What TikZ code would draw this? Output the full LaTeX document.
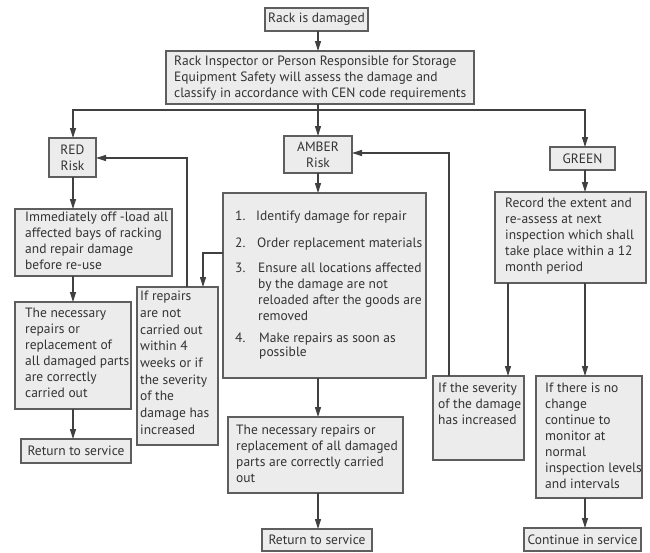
\documentclass[tikz,border=0pt]{standalone}
\usepackage{fontspec}
\setmainfont{PT Sans}
\usetikzlibrary{arrows.meta,calc}
\definecolor{boxfill}{HTML}{ECECEC}
\definecolor{boxline}{HTML}{5E5E5E}
\definecolor{lineclr}{HTML}{404040}
\definecolor{txtclr}{HTML}{333333}
\newcommand\mybox[5]{\node[box, minimum width={(#4)-(#2)}, minimum height={(#5)-(#3)}] (#1) at ({((#2)+(#4))/2},{((#3)+(#5))/2}) {};}
\begin{document}
\begin{tikzpicture}[x=1pt,y=-1pt,
  box/.style={draw=boxline, fill=boxfill, line width=1.1pt, inner sep=0pt, outer sep=0pt},
  lbl/.style={inner sep=0pt, anchor=north west, align=left, font=\fontsize{13.5}{16}\selectfont, text=txtclr},
  ctr/.style={inner sep=0pt, align=center, font=\fontsize{13.5}{16}\selectfont, text=txtclr},
  arr/.style={draw=lineclr, line width=1.1pt, -{Triangle[length=10pt,width=6pt]}},
  ln/.style={draw=lineclr, line width=1.1pt}]
\useasboundingbox (0,0) rectangle (650,552);
% boxes
\mybox{rack}{265}{8}{368}{31}
\mybox{insp}{166}{51}{474}{104}
\mybox{red}{49}{138}{96}{177}
\mybox{amber}{284}{136}{352}{173}
\mybox{green}{550}{147}{615}{170}
\mybox{imm}{15}{209}{172}{276}
\mybox{nec1}{15}{302}{131}{409}
\mybox{ret1}{21}{439}{131}{463}
\mybox{ifrep}{137}{287}{218}{445}
\mybox{list}{223}{193}{426}{378}
\mybox{nec2}{228}{417}{403}{493}
\mybox{ret2}{262}{529}{372}{551}
\mybox{rec}{495}{192}{646}{283}
\mybox{sev}{433}{376}{524}{460}
\mybox{nochg}{536}{376}{642}{498}
\mybox{cont}{524}{528}{641}{551}
% centred labels
\node[ctr] at (rack) {Rack is damaged};
\node[ctr] at (red) {RED\\Risk};
\node[ctr] at (amber) {AMBER\\Risk};
\node[ctr] at (green) {GREEN};
\node[ctr] at (ret1) {Return to service};
\node[ctr] at (ret2) {Return to service};
\node[ctr] at (cont) {Continue in service};
% left-aligned labels
\node[lbl] (tinsp) at (174,56) {Rack Inspector or Person Responsible for Storage\\Equipment Safety will assess the damage and\\classify in accordance with CEN code requirements};
\node[lbl] (timm) at (25,212) {Immediately off -load all\\affected bays of racking\\and repair damage\\before re-use};
\node[lbl] (tnec1) at (25,308) {The necessary\\repairs or\\replacement of\\all damaged parts\\are correctly\\carried out};
\node[lbl, font=\fontsize{13.5}{16.7}\selectfont] (tifrep) at (140,291) {If repairs\\are not\\carried out\\within 4\\weeks or if\\the severity\\of the\\damage has\\increased};
\node[lbl] (n1) at (235,211) {1.};
\node[lbl] (i1) at (256,211) {Identify damage for repair};
\node[lbl] (n2) at (235,238) {2.};
\node[lbl] (i2) at (257,238) {Order replacement materials};
\node[lbl] (n3) at (235,263) {3.};
\node[lbl] (i3) at (258,263) {Ensure all locations affected\\by the damage are not\\reloaded after the goods are\\removed};
\node[lbl] (n4) at (235,333) {4.};
\node[lbl, font=\fontsize{13.5}{12}\selectfont] (i4) at (259,333) {Make repairs as soon as\\possible};
\node[lbl] (tnec2) at (236,425) {The necessary repairs or\\replacement of all damaged\\parts are correctly carried\\out};
\node[lbl] (trec) at (505,198) {Record the extent and\\re-assess at next\\inspection which shall\\take place within a 12\\month period};
\node[lbl] (tsev) at (438,383) {If the severity\\of the damage\\has increased};
\node[lbl] (tnochg) at (545,383) {If there is no\\change\\continue to\\monitor at\\normal\\inspection levels\\and intervals};
% branch point
\coordinate (br) at (318,110);
\coordinate (brl) at (73,110);
\coordinate (brr) at (585,110);
% connectors
\draw[arr] (rack.south -| br) -- (insp.north -| br);
\draw[ln] (insp.south -| br) -- (br);
\draw[arr] (br) -- (amber.north -| br);
\draw[arr] (br) -- (brl) -- (red.north -| brl);
\draw[arr] (br) -- (brr) -- (green.north -| brr);
\draw[arr] (red.south -| brl) -- (imm.north -| brl);
\draw[arr] (imm.south -| brl) -- (nec1.north -| brl);
\draw[arr] (nec1.south -| brl) -- (ret1.north -| brl);
\coordinate (fb1) at (187,158);
\draw[arr] (ifrep.north -| fb1) -- (fb1) -- (red.east |- fb1);
\coordinate (ls) at (203,253);
\draw[arr] (list.west |- ls) -- (ls) -- (ifrep.north -| ls);
\draw[arr] (amber.south -| br) -- (list.north -| br);
\draw[arr] (list.south -| br) -- (nec2.north -| br);
\draw[arr] (nec2.south -| br) -- (ret2.north -| br);
\coordinate (fb2) at (449,153);
\draw[arr] (sev.north -| fb2) -- (fb2) -- (amber.east |- fb2);
\draw[arr] (green.south -| brr) -- (rec.north -| brr);
\coordinate (rs) at (508,300);
\draw[arr] (rec.south -| rs) -- (sev.north -| rs);
\draw[arr] (rec.south -| brr) -- (nochg.north -| brr);
\draw[arr] (nochg.south -| brr) -- (cont.north -| brr);
\end{tikzpicture}
\end{document}
